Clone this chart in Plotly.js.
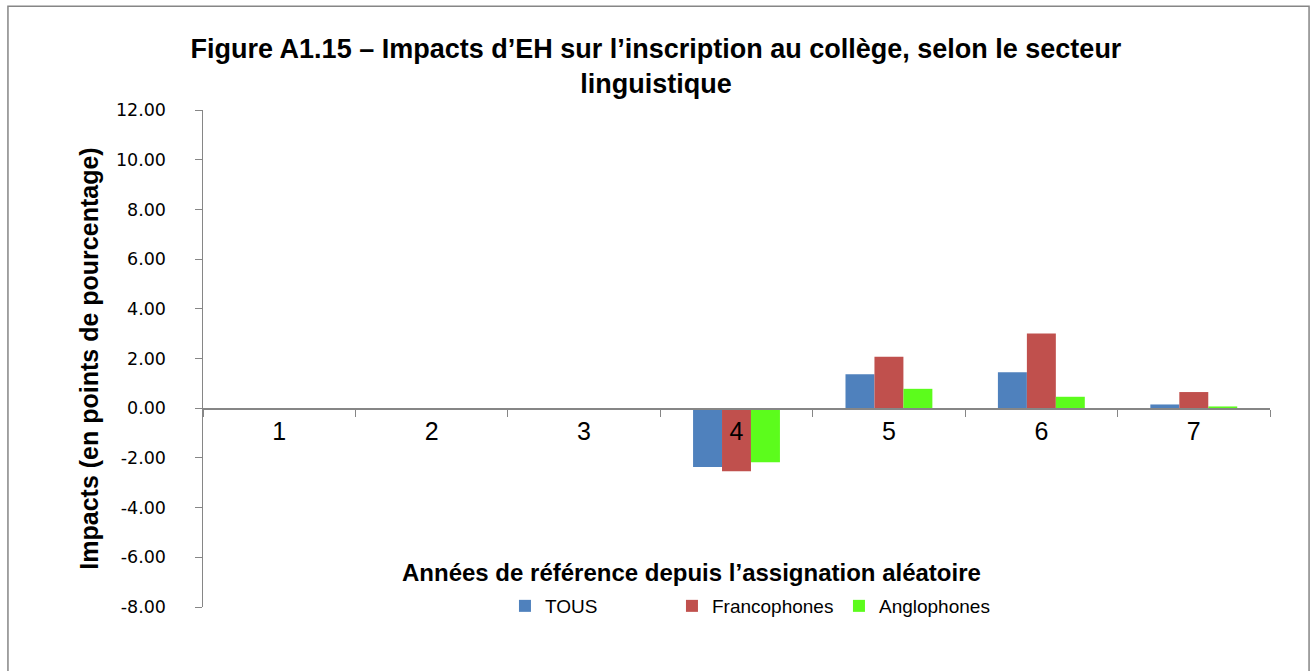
<!DOCTYPE html>
<html>
<head>
<meta charset="utf-8">
<script src="https://cdn.plot.ly/plotly-3.0.1.min.js"></script>
<style>html,body{margin:0;padding:0;background:#fff;}#chart{width:1312px;height:671px;}</style>
</head>
<body>
<div id="chart"></div>
<script>
const categories = ['1', '2', '3', '4', '5', '6', '7'];
const tous = [null, null, null, -2.37, 1.37, 1.45, 0.15];
const francophones = [null, null, null, -2.54, 2.07, 3.01, 0.65];
const anglophones = [null, null, null, -2.18, 0.78, 0.46, 0.07];
const seriesNames = ['TOUS', 'Francophones', 'Anglophones'];
const yTicks = [-8, -6, -4, -2, 0, 2, 4, 6, 8, 10, 12];
const yTickText = yTicks.map(v => v.toFixed(2));

const titleText = 'Figure A1.15 – Impacts d’EH sur l’inscription au collège, selon le secteur<br>linguistique';
const yTitle = 'Impacts (en points de pourcentage)';
const xTitle = 'Années de référence depuis l’assignation aléatoire';

const font = 'Liberation Sans, Arial, sans-serif';
const colors = ['#4f81bd', '#c0504d', '#5cfc1c'];

const traces = [tous, francophones, anglophones].map((vals, i) => ({
  type: 'bar',
  name: seriesNames[i],
  x: categories,
  y: vals,
  marker: {color: colors[i]},
  xaxis: 'x',
  yaxis: 'y'
}));

const layout = {
  width: 1312,
  height: 671,
  paper_bgcolor: '#ffffff',
  plot_bgcolor: '#ffffff',
  margin: {l: 203, r: 42, t: 110, b: 64},
  barmode: 'group',
  bargap: 0.43,
  bargroupgap: 0,
  showlegend: true,
  legend: {
    orientation: 'h',
    x: 0.283, xanchor: 'left',
    y: 0.002, yanchor: 'middle',
    font: {family: font, size: 19, color: '#000'},
    entrywidth: 122,
    itemwidth: 30,
    traceorder: 'normal'
  },
  title: {
    text: titleText,
    font: {family: font, size: 27, color: '#000', weight: 'bold'},
    x: 0.5, xanchor: 'center',
    y: 0.914, yanchor: 'middle'
  },
  xaxis: {
    type: 'category',
    anchor: 'free',
    position: 0.4,
    showline: true,
    linecolor: '#868686',
    linewidth: 1.5,
    ticks: 'outside',
    tickson: 'boundaries',
    ticklen: 7,
    tickcolor: '#868686',
    showgrid: false,
    zeroline: false,
    tickfont: {family: font, size: 25, color: '#000'},
    fixedrange: true
  },
  yaxis: {
    range: [-8, 12],
    tickvals: yTicks,
    ticktext: yTickText,
    showline: true,
    linecolor: '#868686',
    linewidth: 1.5,
    ticks: 'outside',
    ticklen: 7,
    tickcolor: '#868686',
    ticklabelstandoff: 25,
    showgrid: false,
    zeroline: false,
    tickfont: {family: 'DejaVu Sans, Verdana, sans-serif', size: 17.5, color: '#000'},
    title: {text: yTitle, font: {family: font, size: 25, color: '#000', weight: 'bold'}, standoff: 10}
  },
  annotations: [{
    text: xTitle,
    xref: 'paper', yref: 'paper',
    x: 0.458, y: 0.07,
    xanchor: 'center', yanchor: 'middle',
    showarrow: false,
    font: {family: font, size: 24, color: '#000', weight: 'bold'}
  }],
  shapes: [{
    type: 'rect', xref: 'paper', yref: 'paper',
    x0: -0.1828, x1: 1.0366, y0: -0.137, y1: 1.209,
    line: {color: '#868686', width: 1.5}, fillcolor: 'rgba(0,0,0,0)', layer: 'below'
  }]
};

Plotly.newPlot('chart', traces, layout, {displayModeBar: false, staticPlot: true});
</script>
</body>
</html>
